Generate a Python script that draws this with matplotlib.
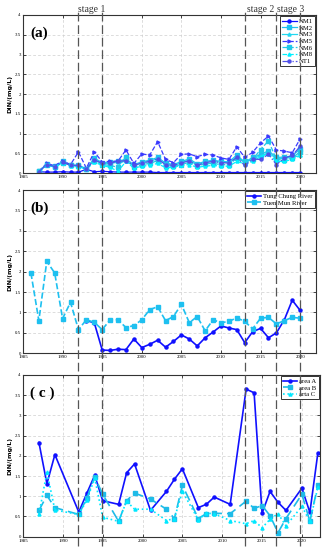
import matplotlib
matplotlib.use("Agg")
import matplotlib.pyplot as plt
import numpy as np

# panel (a): coastal stations
years_a = list(range(1987, 2021))
nm1 = [0.04, 0.03, 0.03, 0.04, 0.03, 0.03, 0.10, 0.04, 0.05, 0.04, 0.03, 0.03,
       0.03, 0.03, 0.03, 0.02, 0.02, 0.02, 0.02, 0.02, 0.02, 0.02, 0.02, 0.02,
       0.02, 0.02, 0.02, 0.02, 0.02, 0.02, 0.02, 0.02, 0.02, 0.02]
nm2 = [0.05, 0.24, 0.18, 0.30, 0.21, 0.20, 0.12, 0.38, 0.27, 0.28, 0.31, 0.35,
       0.22, 0.29, 0.33, 0.40, 0.26, 0.22, 0.30, 0.36, 0.24, 0.30, 0.33, 0.30,
       0.29, 0.46, 0.28, 0.40, 0.47, 0.57, 0.40, 0.41, 0.44, 0.62]
nm3 = [0.04, 0.22, 0.17, 0.28, 0.20, 0.19, 0.10, 0.36, 0.24, 0.25, 0.28, 0.30,
       0.19, 0.27, 0.30, 0.37, 0.23, 0.20, 0.27, 0.33, 0.21, 0.28, 0.30, 0.28,
       0.27, 0.42, 0.26, 0.37, 0.44, 0.52, 0.37, 0.38, 0.40, 0.45]
nm5 = [0.05, 0.25, 0.19, 0.32, 0.22, 0.54, 0.13, 0.54, 0.29, 0.30, 0.31, 0.59,
       0.25, 0.49, 0.46, 0.80, 0.35, 0.27, 0.48, 0.49, 0.42, 0.48, 0.46, 0.39,
       0.35, 0.67, 0.40, 0.53, 0.77, 0.94, 0.59, 0.56, 0.52, 0.87]
nm6 = [0.05, 0.22, 0.17, 0.27, 0.20, 0.18, 0.12, 0.30, 0.22, 0.20, 0.15, 0.42,
       0.15, 0.22, 0.25, 0.32, 0.18, 0.18, 0.22, 0.28, 0.18, 0.24, 0.25, 0.22,
       0.22, 0.38, 0.30, 0.35, 0.60, 0.82, 0.35, 0.33, 0.38, 0.55]
nm8 = [0.04, 0.20, 0.16, 0.26, 0.19, 0.17, 0.10, 0.28, 0.20, 0.15, 0.05, 0.30,
       0.13, 0.18, 0.20, 0.25, 0.14, 0.15, 0.20, 0.22, 0.15, 0.18, 0.20, 0.18,
       0.18, 0.30, 0.24, 0.30, 0.42, 0.50, 0.30, 0.30, 0.35, 0.45]
nt1 = [0.04, 0.22, 0.17, 0.28, 0.20, 0.20, 0.10, 0.34, 0.25, 0.26, 0.30, 0.32,
       0.20, 0.26, 0.30, 0.36, 0.22, 0.20, 0.26, 0.32, 0.20, 0.27, 0.30, 0.27,
       0.26, 0.40, 0.20, 0.36, 0.35, 0.48, 0.22, 0.38, 0.45, 0.68]

# panel (b): rivers
years_tc = list(range(1993, 2021))
tung_chung = [0.80, 0.75, 0.08, 0.07, 0.10, 0.09, 0.35, 0.14, 0.22, 0.32,
              0.15, 0.29, 0.45, 0.35, 0.18, 0.38, 0.52, 0.67, 0.62, 0.58,
              0.26, 0.53, 0.61, 0.38, 0.50, 0.82, 1.30, 1.05]
years_tm = list(range(1986, 2021))
tuen_mun = [1.97, 0.80, 2.25, 1.97, 0.85, 1.25, 0.58, 0.82, 0.76, 0.58,
            0.82, 0.82, 0.63, 0.68, 0.82, 1.07, 1.14, 0.80, 0.90, 1.20,
            0.75, 0.90, 0.55, 0.82, 0.75, 0.78, 0.87, 0.78, 0.60, 0.86,
            0.88, 0.72, 0.80, 0.88, 0.86]

# panel (c): areas
years_c = [1987, 1988, 1989, 1992, 1993, 1994, 1995, 1997, 1998, 1999, 2001,
           2003, 2004, 2005, 2007, 2008, 2009, 2011, 2013, 2014, 2015, 2016,
           2017, 2018, 2020, 2021, 2022]
area_a = [2.33, 1.31, 2.03, 0.61, 1.07, 1.52, 0.89, 0.80, 1.58, 1.80, 0.65,
          1.12, 1.42, 1.68, 0.72, 0.80, 0.98, 0.80, 3.65, 3.56, 0.58, 1.12,
          0.85, 0.65, 1.20, 0.60, 2.07]
area_b = [0.65, 1.02, 0.72, 0.55, 0.95, 1.48, 1.05, 0.38, 0.89, 1.08, 0.93,
          0.68, 0.45, 1.27, 0.45, 0.57, 0.58, 0.57, 0.88, 0.70, 0.77, 0.52,
          0.10, 0.45, 1.05, 0.38, 1.27]
area_c = [0.55, 1.60, 0.66, 0.55, 0.90, 1.45, 0.48, 0.38, 0.88, 0.68, 0.68,
          0.40, 0.45, 1.12, 0.42, 0.58, 0.57, 0.40, 0.32, 0.40, 0.22, 0.43,
          0.57, 0.27, 0.75, 0.38, 1.22]

stage_years = [1992, 1995, 2013, 2017, 2020]
stage_labels = ["stage 1", "stage 2", "stage 3"]
stage_label_x = [1993.7, 2015.0, 2018.8]

SERIF = "Liberation Serif"
W, H = 325, 550
fig = plt.figure(figsize=(W / 100, H / 100), dpi=100)


def px_axes(left, top, right, bottom):
    return fig.add_axes([left / W, 1 - bottom / H, (right - left) / W, (bottom - top) / H])


def style(ax, xmax=2022):
    ax.set_xlim(1985, xmax)
    ax.set_ylim(0, 4)
    ax.set_xticks(range(1985, 2021, 5))
    ax.set_yticks(np.arange(0, 4.01, 0.5))
    ax.set_yticklabels(["0", "0.5", "1", "1.5", "2", "2.5", "3", "3.5", "4"])
    ax.tick_params(direction="in", length=2, width=0.5, labelsize=3.5, pad=1.5,
                   top=True, right=True)
    for lab in ax.get_xticklabels() + ax.get_yticklabels():
        lab.set_family(SERIF)
    ax.grid(True, linestyle=(0, (4, 3)), color="#cfcfcf", linewidth=0.5)
    ax.set_axisbelow(True)
    for s in ax.spines.values():
        s.set_linewidth(0.8)
        s.set_color("#333333")
    ax.set_ylabel("DIN/(mg/L)", fontsize=4.5, fontweight="bold", labelpad=2)


def legend(ax):
    leg = ax.legend(loc="upper right", prop={"family": SERIF, "size": 4.8},
                    fancybox=False, edgecolor="#333333", framealpha=1,
                    borderpad=0.3, labelspacing=0.15, handlelength=2.2,
                    handletextpad=0.3, borderaxespad=0.2)
    leg.get_frame().set_linewidth(0.7)


ms = 2.2
lw = 0.9

# (a)
ax1 = px_axes(23, 15, 316, 173.3)
ax1.plot(years_a, nm1, "-", marker="o", color="#1010ff", lw=lw, ms=ms, label="NM1")
ax1.plot(years_a, nm2, "-", marker="s", color="#1ec0f0", lw=lw, ms=ms, label="NM2")
ax1.plot(years_a, nm3, "-", marker="^", color="#22d8f0", lw=lw, ms=ms, label="NM3")
ax1.plot(years_a, nm5, "--", marker=">", color="#3a3aff", lw=lw, ms=ms, label="NM5")
ax1.plot(years_a, nm6, "--", marker="s", color="#20c8e8", lw=lw, ms=ms, label="NM6")
ax1.plot(years_a, nm8, "--", marker="^", color="#00f0ff", lw=lw, ms=ms, label="NM8")
ax1.plot(years_a, nt1, "-.", marker="o", color="#5050e8", lw=lw, ms=ms, label="NT1")
style(ax1)
legend(ax1)
ax1.text(0.025, 0.93, "(a)", transform=ax1.transAxes, family=SERIF,
         fontweight="bold", fontsize=11, va="top")

# (b)
ax2 = px_axes(23, 190, 316, 353.3)
ax2.plot(years_tc, tung_chung, "-", marker="o", color="#1010ff", lw=1.2, ms=ms,
         label="Tung Chung River")
ax2.plot(years_tm, tuen_mun, "--", marker="s", color="#1ec0f0", lw=1.2, ms=ms,
         label="Tuen Mun River")
style(ax2)
legend(ax2)
ax2.text(0.025, 0.93, "(b)", transform=ax2.transAxes, family=SERIF,
         fontweight="bold", fontsize=11, va="top")

# (c)
ax3 = px_axes(23, 375, 320, 536.7)
ax3.plot(years_c, area_a, "-", marker="o", color="#1010ff", lw=1.2, ms=ms, label="area A")
ax3.plot(years_c, area_b, "--", marker="s", color="#1ebbe8", lw=1.2, ms=ms,
         dashes=(6, 3), label="area B")
ax3.plot(years_c, area_c, ":", marker="^", color="#00e8ff", lw=1.2, ms=ms, label="arta C")
style(ax3, xmax=2022.27)
legend(ax3)
ax3.text(0.025, 0.93, "( c )", transform=ax3.transAxes, family=SERIF,
         fontweight="bold", fontsize=11, va="top")

# stage lines running through all panels
ov = fig.add_axes([23 / W, 0, 293 / W, 1])
ov.set_xlim(1985, 2022)
ov.set_ylim(0, 1)
ov.axis("off")
ov.patch.set_alpha(0)
ov.vlines(stage_years, 0.008, 1 - 12 / H, colors="#555555", linewidth=0.9,
          linestyles=(0, (7, 3)))
for lab, x in zip(stage_labels, stage_label_x):
    ov.text(x, 1 - 9 / H, lab, ha="center", va="center", family=SERIF,
            fontsize=7, color="#333333")

fig.savefig("out.png", dpi=100)
